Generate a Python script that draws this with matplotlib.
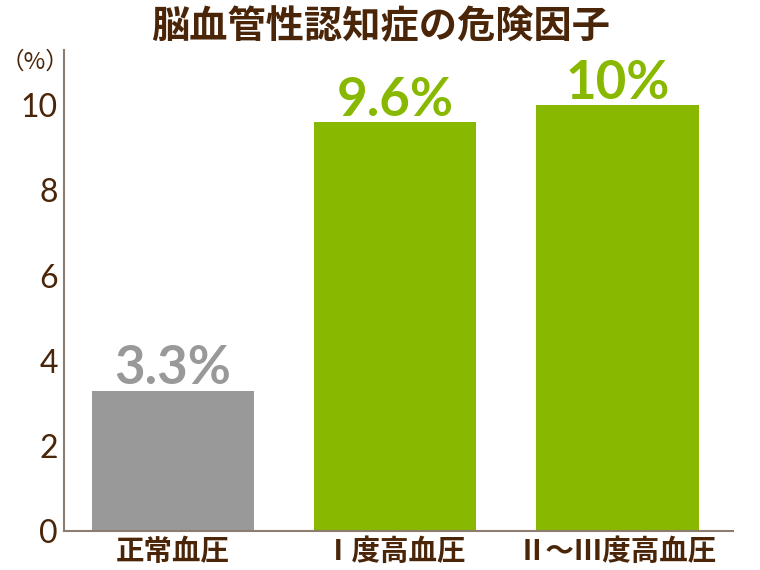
import matplotlib
matplotlib.use("Agg")
import matplotlib.pyplot as plt

categories = ["正常血圧", "Ⅰ度高血圧", "Ⅱ～Ⅲ度高血圧"]
values = [3.3, 9.6, 10.0]
value_labels = ["3.3%", "9.6%", "10%"]
yticks = [0, 2, 4, 6, 8, 10]
title = "脳血管性認知症の危険因子"

brown = "#4a2508"
gray = "#999999"
green = "#88b800"
colors = [gray, green, green]
spine_c = "#8c7d70"
cjk = ["Noto Sans CJK JP", "DejaVu Sans"]

fig = plt.figure(figsize=(7.6, 5.7), dpi=100)
ax = fig.add_axes([64/760, (570-531)/570, (733-64)/760, (531-50)/570])

x = list(range(len(categories)))
ax.bar(x, values, width=0.73, color=colors)
ax.set_xlim(-0.49, 2.52)
ax.set_ylim(0, 11.3)

for xi, v, lab, c in zip(x, values, value_labels, colors):
    ax.annotate(lab, (xi, v), xytext=(0, 4.5), textcoords="offset points",
                ha="center", va="baseline", fontsize=38, fontweight="bold",
                color=c, family=["Lato", "DejaVu Sans"])

ax.set_yticks(yticks)
ax.set_yticklabels([str(t) for t in yticks], family=["Lato", "DejaVu Sans"],
                   fontsize=23, color=brown)
ax.set_xticks(x)
ax.set_xticklabels(categories, family=cjk, fontsize=20.5, fontweight="bold", color=brown)
ax.tick_params(axis="both", length=0)
ax.tick_params(axis="y", pad=4.5)
ax.tick_params(axis="x", pad=5)

for s in ["top", "right"]:
    ax.spines[s].set_visible(False)
for s in ["left", "bottom"]:
    ax.spines[s].set_color(spine_c)
    ax.spines[s].set_linewidth(1.5)

fig.text(381/760, 1 - 27/570, title, ha="center", va="center", fontsize=27.5,
         fontweight="bold", color=brown, family=cjk)
fig.text(35/760, 1 - 62/570, "（%）", ha="center", va="center", fontsize=17,
         color=brown, family=cjk)

fig.savefig("out.png", dpi=100)
